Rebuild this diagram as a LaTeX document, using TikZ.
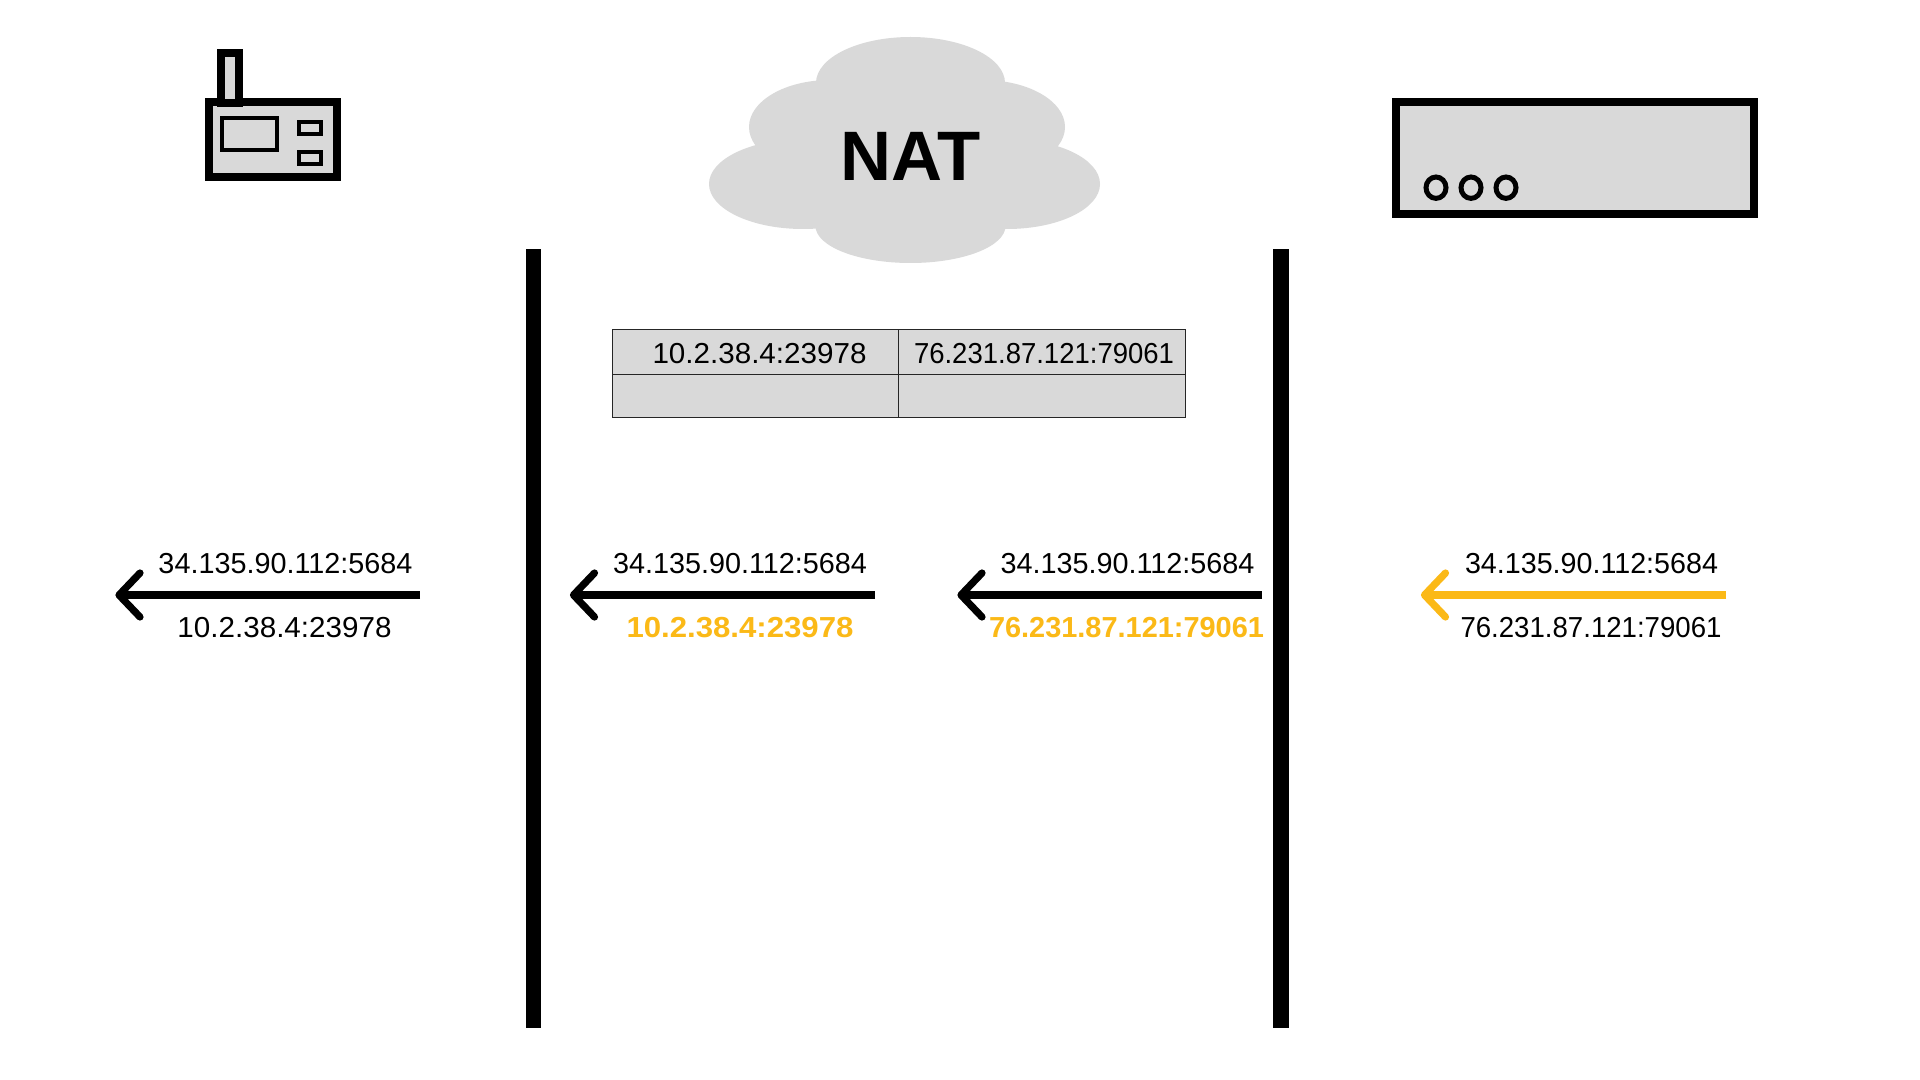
\documentclass[tikz,border=0pt]{standalone}
\usepackage{fontspec}
\usepackage{graphicx}
\setmainfont{Liberation Sans}
\definecolor{panel}{HTML}{D9D9D9}
\definecolor{amber}{HTML}{FBB917}
\newlength{\pxu}
\setlength{\pxu}{0.5pt}
% address text fitted to a given width in picture units
\newcommand{\addr}[2]{\resizebox{#1\pxu}{\totalheight}{#2}}
\tikzset{
  x=0.5pt, y=-0.5pt,
  thick box/.style={draw=black, fill=panel, line width=4pt, line join=miter},
  thin box/.style={draw=black, fill=panel, line width=2pt},
  cell/.style={draw=black!85, fill=panel, line width=0.5pt},
  wall/.style={fill=black},
  addr text/.style={anchor=base, inner sep=0pt, font=\fontsize{14.25}{17}\selectfont},
  hot text/.style={addr text, text=amber, font=\fontsize{14.25}{17}\selectfont\bfseries},
  shaft/.style={line width=3.6pt},
  head/.style={line width=3.6pt, line cap=round, line join=round},
}
% leftward arrow between two named coordinates, head drawn from the tip
\newcommand{\leftarrowdraw}[3]{%
  \draw[shaft, #1] (#2) -- (#3);
  \draw[head, #1] ([xshift=10.5pt, yshift=11pt]#3) -- (#3) -- ([xshift=10.5pt, yshift=-11pt]#3);
}
\begin{document}
\begin{tikzpicture}
\useasboundingbox (0,0) rectangle (1920,1080);
\fill[white] (0,0) rectangle (1920,1080);

% radio device
\draw[thick box] (209,102) rectangle (337,177);
\draw[thick box] (221,53) rectangle (239,103);
\draw[thin box] (222,118) rectangle (277,150);
\draw[thin box] (299,122) rectangle (321,134);
\draw[thin box] (299,152) rectangle (321,164);

% cloud built from overlapping lobes
\fill[panel] (910.5,83) ellipse [x radius=94.5, y radius=46];
\fill[panel] (910.5,226) ellipse [x radius=95, y radius=37];
\fill[panel] (830,127) ellipse [x radius=81, y radius=47];
\fill[panel] (983,127) ellipse [x radius=82, y radius=47];
\fill[panel] (803,184) ellipse [x radius=94, y radius=45];
\fill[panel] (1007,184) ellipse [x radius=93, y radius=45];
\fill[panel] (820,85) rectangle (1000,228);
\node[anchor=base, inner sep=0pt, font=\fontsize{35}{40}\selectfont\bfseries] (nat) at (910.5,181) {\resizebox{140\pxu}{\totalheight}{NAT}};

% server
\draw[thick box] (1396,102) rectangle (1754,214);
\foreach \cx in {1436,1471,1506}
  \draw[draw=black, fill=panel, line width=2.5pt] (\cx,187.7) ellipse [x radius=10, y radius=10.7];

% walls either side of the translator
\fill[wall] (526,249) rectangle (541,1028);
\fill[wall] (1273,249) rectangle (1289,1028);

% mapping table
\draw[cell] (612,330) rectangle (898,374);
\draw[cell] (898,330) rectangle (1185,374);
\draw[cell] (612,374) rectangle (898,417);
\draw[cell] (898,374) rectangle (1185,417);
\node[addr text] (mapa) at (759.5,363.5) {\addr{214}{10.2.38.4:23978}};
\node[addr text] (mapb) at (1044,363.5) {\addr{260}{76.231.87.121:79061}};

% packet on the private side
\coordinate (ta) at (119,595);
\coordinate (sa) at (420,595);
\leftarrowdraw{black}{sa}{ta}
\node[addr text] (a1) at (285.5,573.2) {\addr{254}{34.135.90.112:5684}};
\node[addr text] (a2) at (284.5,637.2) {\addr{214}{10.2.38.4:23978}};

% packet leaving the translator inwards
\coordinate (tb) at (573.5,595);
\coordinate (sb) at (875,595);
\leftarrowdraw{black}{sb}{tb}
\node[addr text] (b1) at (740,573.2) {\addr{254}{34.135.90.112:5684}};
\node[hot text] (b2) at (740,637.2) {\addr{227}{10.2.38.4:23978}};

% packet entering the translator
\coordinate (tc) at (961,595);
\coordinate (sc) at (1262,595);
\leftarrowdraw{black}{sc}{tc}
\node[addr text] (c1) at (1127.5,573.2) {\addr{254}{34.135.90.112:5684}};
\node[hot text] (c2) at (1126.5,637.2) {\addr{275}{76.231.87.121:79061}};

% packet from the server
\coordinate (td) at (1424.5,595);
\coordinate (sd) at (1726,595);
\leftarrowdraw{amber}{sd}{td}
\node[addr text] (d1) at (1591.5,573.2) {\addr{253}{34.135.90.112:5684}};
\node[addr text] (d2) at (1591,637.2) {\addr{261}{76.231.87.121:79061}};
\end{tikzpicture}
\end{document}
